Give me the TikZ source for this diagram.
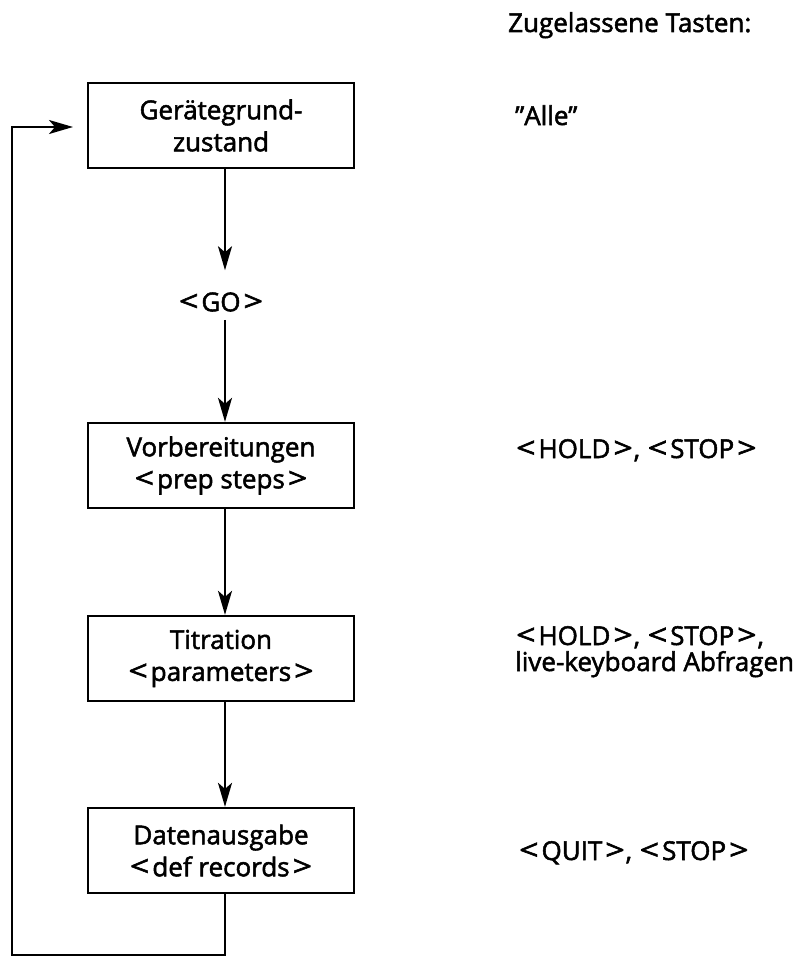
\documentclass[tikz,border=0pt]{standalone}
\usepackage{fontspec}
\usepackage{graphicx}
\setmainfont{Open Sans}[FakeBold=2]
\usetikzlibrary{arrows.meta}
\newcommand\LA{\kern1pt\scalebox{1.3}[1.1]{<}\kern3pt}
\newcommand\RA{\kern3pt\scalebox{1.3}[1.1]{>}\kern1pt}
\begin{document}
\begin{tikzpicture}[x=1pt,y=-1pt,
  every node/.style={font=\fontsize{26}{32}\selectfont},
  stepbox/.style={draw,line width=2.3pt,minimum width=266pt,minimum height=85pt,align=center,inner sep=0pt},
  keytext/.style={anchor=base west,inner sep=0pt},
  arr/.style={line width=2.3pt,-{Stealth[length=24pt,width=14pt,inset=6pt]}}]
\useasboundingbox (0,0) rectangle (807,958);
\node[stepbox] (b1) at (221,125.5) {Gerätegrund-\\zustand};
\node[inner sep=0pt] (go) at (221,302) {\LA GO\RA};
\node[stepbox] (b2) at (221,465.5) {Vorbereitungen\\\LA prep steps\RA};
\node[stepbox] (b3) at (221,658.5) {Titration\\\LA parameters\RA};
\node[stepbox] (b4) at (221,850.5) {Datenausgabe\\\LA def records\RA};
\node[keytext] (t0) at (508,32) {Zugelassene Tasten:};
\node[keytext] (t1) at (515,125) {”Alle”};
\node[keytext] (t2) at (515,458) {\LA HOLD\RA, \LA STOP\RA};
\node[keytext] (t3) at (515,645) {\LA HOLD\RA, \LA STOP\RA,};
\node[keytext] (t3b) at (515,671) {live-keyboard Abfragen};
\node[keytext] (t4) at (518,860) {\LA QUIT\RA, \LA STOP\RA};
\coordinate (lb) at (12,955);
\coordinate (lt) at (12,127);
\coordinate (tip) at (73,127);
\draw[arr,shorten >=22pt] ([xshift=4pt]b1.south) -- ([xshift=4pt]go.north);
\draw[arr,shorten <=8pt] ([xshift=4pt]go.south) -- ([xshift=4pt]b2.north);
\draw[arr] ([xshift=4pt]b2.south) -- ([xshift=4pt]b3.north);
\draw[arr] ([xshift=4pt]b3.south) -- ([xshift=4pt]b4.north);
\draw[arr] ([xshift=4pt]b4.south) |- (lb) -- (lt) -- (tip);
\end{tikzpicture}
\end{document}
